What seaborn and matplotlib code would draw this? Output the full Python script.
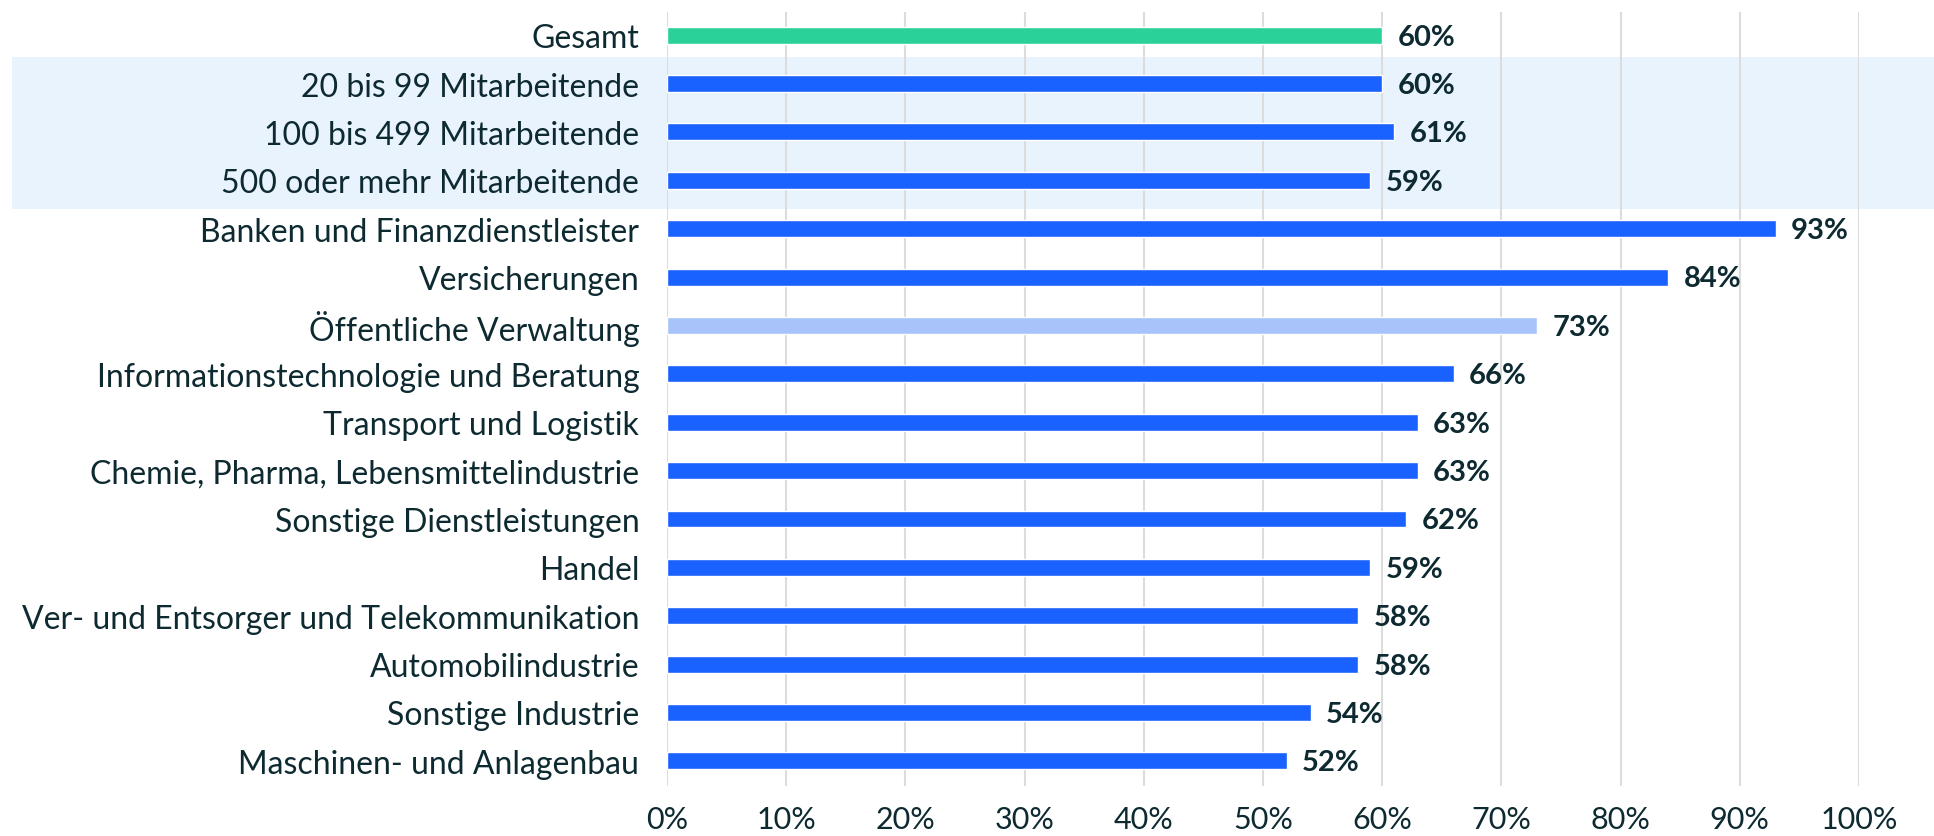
import matplotlib
matplotlib.use("Agg")
import matplotlib.pyplot as plt
import seaborn as sns
import pandas as pd
from matplotlib.patches import Rectangle
from matplotlib.transforms import blended_transform_factory

categories = [
    "Gesamt",
    "20 bis 99 Mitarbeitende",
    "100 bis 499 Mitarbeitende",
    "500 oder mehr Mitarbeitende",
    "Banken und Finanzdienstleister",
    "Versicherungen",
    "Öffentliche Verwaltung",
    "Informationstechnologie und Beratung",
    "Transport und Logistik",
    "Chemie, Pharma, Lebensmittelindustrie",
    "Sonstige Dienstleistungen",
    "Handel",
    "Ver- und Entsorger und Telekommunikation",
    "Automobilindustrie",
    "Sonstige Industrie",
    "Maschinen- und Anlagenbau",
]
values = [60, 60, 61, 59, 93, 84, 73, 66, 63, 63, 62, 59, 58, 58, 54, 52]
bar_colors = ["#2AD199"] + ["#1A62FF"] * 5 + ["#A8C3FA"] + ["#1A62FF"] * 9
xticks = [0, 10, 20, 30, 40, 50, 60, 70, 80, 90, 100]
xtick_labels = [f"{t}%" for t in xticks]

TEXT = "#0E2A31"

sns.set_theme(style="white")
plt.rcParams["font.family"] = ["Lato", "DejaVu Sans"]

df = pd.DataFrame({"cat": categories, "val": values})

fig = plt.figure(figsize=(19.34, 8.37), dpi=100)
ax = fig.add_axes([0.3449, 0.0597, 0.9612 - 0.3449, 0.9845 - 0.0597])

sns.barplot(data=df, x="val", y="cat", hue="cat", palette=bar_colors,
            legend=False, width=0.35, ax=ax, saturation=1, zorder=3)

ax.set_xlim(0, 100)
ax.set_ylim(15.52, -0.48)
ax.set_xticks(xticks)
ax.set_xticklabels(xtick_labels)
ax.grid(axis="x", color="#DCDCDC", linewidth=1.5, zorder=1)
ax.set_axisbelow(True)
for s in ax.spines.values():
    s.set_visible(False)
ax.set_xlabel("")
ax.set_ylabel("")
ax.tick_params(axis="y", length=0, pad=20, labelsize=23, labelcolor=TEXT)
ax.tick_params(axis="x", length=0, pad=14, labelsize=22, labelcolor=TEXT)
ax.patch.set_alpha(0)

# highlighted band behind company-size rows
trans = blended_transform_factory(fig.transFigure, ax.transData)
band = Rectangle((12 / 1934, 0.45), 1 - 12 / 1934, 3.6 - 0.45, transform=trans,
                 facecolor="#E8F3FE", edgecolor="none", zorder=0, clip_on=False)
ax.add_artist(band)

for i, v in enumerate(values):
    ax.annotate(f"{v}%", xy=(v, i), xytext=(11, -1), textcoords="offset points",
                va="center", ha="left", fontsize=21, fontweight="bold", color=TEXT)

fig.savefig("out.png", dpi=100)
